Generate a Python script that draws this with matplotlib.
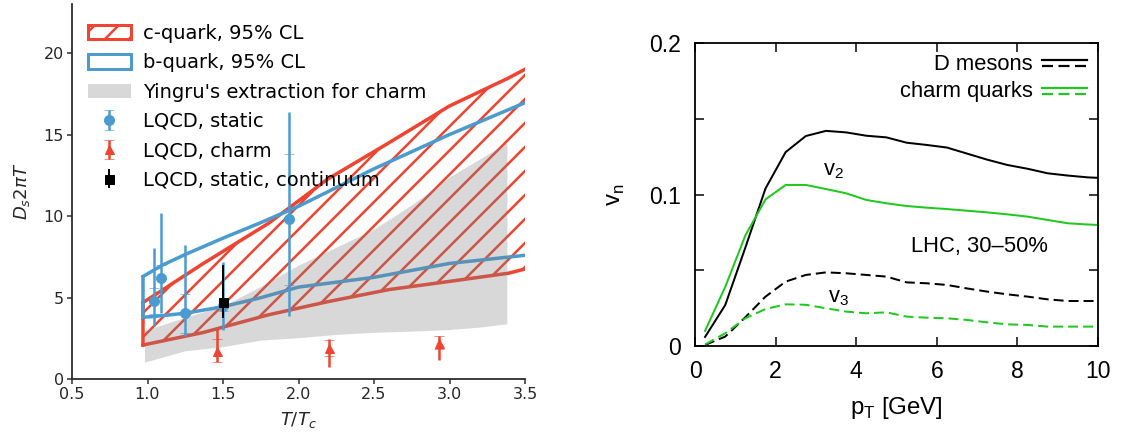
import numpy as np
import matplotlib
matplotlib.use('Agg')
import matplotlib.pyplot as plt
from matplotlib.lines import Line2D
from matplotlib.patches import Patch
from matplotlib.legend_handler import HandlerBase

# ---- left panel: spatial diffusion coefficient ----
# c-quark 95% CL band
t_c = [0.97, 1.37, 1.8, 2.19, 2.6, 3.0, 3.39, 3.5]
c_lo = [2.1, 2.87, 3.95, 4.75, 5.5, 6.0, 6.5, 6.76]
c_hi = [4.7, 7.1, 9.55, 12.25, 14.5, 16.75, 18.46, 19.0]

# b-quark 95% CL band
t_b = [0.97, 1.1, 1.25, 1.5, 1.75, 2.0, 2.5, 3.0, 3.5]
b_lo = [3.8, 3.9, 4.05, 4.45, 5.0, 5.65, 6.25, 7.1, 7.6]
b_hi = [6.3, 7.0, 7.65, 8.65, 9.6, 10.6, 12.9, 15.0, 16.95]

# Yingru's extraction (grey band)
t_g = [0.98, 1.25, 1.5, 1.75, 2.0, 2.25, 2.5, 2.75, 3.0, 3.2, 3.38]
g_lo = [1.05, 1.75, 2.0, 2.4, 2.55, 2.75, 2.88, 2.95, 3.05, 3.2, 3.4]
g_hi = [3.0, 3.8, 4.5, 5.7, 7.0, 8.1, 9.2, 10.7, 12.4, 13.5, 14.5]

# LQCD, static
t_s = [1.04, 1.09, 1.25, 1.5, 1.94]
d_s = [4.8, 6.2, 4.05, 4.5, 9.8]
s_lo = [1.55, 2.15, 1.4, 1.5, 5.9]
s_hi = [3.25, 4.0, 4.2, 2.7, 6.6]
s_stat = [0.8, 0.8, 1.2, 0.3, 4.0]

# LQCD, charm
t_ch = [1.46, 2.2, 2.93]
d_ch = [1.75, 1.9, 2.25]
ch_lo = [0.67, 1.12, 1.07]
ch_hi = [1.32, 0.6, 0.41]
ch_stat = [0.7, 0.5, 0.42]

# LQCD, static, continuum
t_k = [1.5]
d_k = [4.76]
k_lo = [1.02]
k_hi = [2.25]

left_labels = ['c-quark, 95% CL', 'b-quark, 95% CL', "Yingru's extraction for charm",
               'LQCD, static', 'LQCD, charm', 'LQCD, static, continuum']
x_ticks_l = [0.5, 1.0, 1.5, 2.0, 2.5, 3.0, 3.5]
y_ticks_l = [0, 5, 10, 15, 20]

# ---- right panel: v2 / v3 ----
pt = [0.25, 0.75, 1.25, 1.75, 2.25, 2.75, 3.25, 3.75, 4.25, 4.75, 5.25,
      5.75, 6.25, 6.75, 7.25, 7.75, 8.25, 8.75, 9.25, 9.75, 10.0]
d_v2 = [0.006, 0.027, 0.065, 0.104, 0.128, 0.1386, 0.142, 0.141, 0.1388, 0.1377, 0.1342,
        0.1327, 0.131, 0.127, 0.123, 0.1195, 0.117, 0.114, 0.1125, 0.1113, 0.111]
c_v2 = [0.010, 0.039, 0.073, 0.0968, 0.1063, 0.1063, 0.1036, 0.1008, 0.0964, 0.0942, 0.0924,
        0.0913, 0.0904, 0.0893, 0.0882, 0.0869, 0.0854, 0.0832, 0.081, 0.0802, 0.0799]
d_v3 = [0.0007, 0.0062, 0.019, 0.0326, 0.0425, 0.0469, 0.0486, 0.048, 0.0469, 0.0458, 0.042,
        0.0414, 0.0403, 0.038, 0.0359, 0.0341, 0.0326, 0.0308, 0.0297, 0.0297, 0.0297]
c_v3 = [0.001, 0.0084, 0.0183, 0.0244, 0.0275, 0.0272, 0.0249, 0.0227, 0.0216, 0.0222, 0.0194,
        0.0187, 0.0183, 0.0172, 0.0156, 0.0143, 0.0139, 0.0128, 0.0128, 0.0128, 0.0128]
right_labels = ['D mesons', 'charm quarks']
x_ticks_r = [0, 2, 4, 6, 8, 10]
y_ticks_r = [0, 0.05, 0.1, 0.15, 0.2]
y_ticklabels_r = ['0', '', '0.1', '', '0.2']

RED = '#ee4431'
BLUE = '#4b9bcf'
GREEN = '#1fc81f'
DARK = '#2b2b2b'

plt.rcParams['hatch.linewidth'] = 2.5
plt.rcParams['hatch.color'] = RED

W, H = 1124, 436
fig = plt.figure(figsize=(W / 72, H / 72), dpi=72)

# ================= left panel =================
ax = fig.add_axes([72 / W, 1 - 379.3 / H, 453 / W, 375.3 / H])

ax.fill_between(t_c, c_lo, c_hi, facecolor='none', edgecolor=RED, hatch='/', linewidth=0, zorder=1)
for ys in (c_lo, c_hi):
    ax.plot(t_c, ys, color=RED, lw=3.5, zorder=2)
ax.plot([t_c[0], t_c[0]], [c_lo[0], c_hi[0]], color=RED, lw=3.5, zorder=2)

for ys in (b_lo, b_hi):
    ax.plot(t_b, ys, color=BLUE, lw=3.5, zorder=2.5)
ax.plot([t_b[0], t_b[0]], [b_lo[0], b_hi[0]], color=BLUE, lw=3.5, zorder=2.5)

ax.fill_between(t_g, g_lo, g_hi, color='gray', alpha=0.3, linewidth=0, zorder=3)

e_s = ax.errorbar(t_s, d_s, yerr=[s_lo, s_hi], fmt='o', color=BLUE, ms=10, elinewidth=2.5, zorder=5)
e_s2 = ax.errorbar(t_s, d_s, yerr=s_stat, fmt='none', ecolor=BLUE, elinewidth=1, capsize=5,
                   capthick=1, alpha=0.6, zorder=5)
e_ch = ax.errorbar(t_ch, d_ch, yerr=[ch_lo, ch_hi], fmt='^', color=RED, ms=9, elinewidth=2.5, zorder=5)
e_ch2 = ax.errorbar(t_ch, d_ch, yerr=ch_stat, fmt='none', ecolor=RED, elinewidth=1, capsize=5,
                    capthick=1, alpha=0.6, zorder=5)
e_k = ax.errorbar(t_k, d_k, yerr=[k_lo, k_hi], fmt='s', color='black', ms=9, elinewidth=2, zorder=6)

h_c = Patch(facecolor='none', edgecolor=RED, hatch='/', lw=3)
h_b = Patch(facecolor='none', edgecolor=BLUE, lw=3)
h_g = Patch(facecolor='gray', alpha=0.3, lw=0)
ax.legend([h_c, h_b, h_g, (e_s, e_s2), (e_ch, e_ch2), e_k], left_labels,
          loc='upper left', bbox_to_anchor=(0.035, 0.947), frameon=False, fontsize=19.5,
          borderpad=0, borderaxespad=0, handlelength=2.2, handleheight=0.75,
          handletextpad=0.65, labelspacing=0.53)

ax.set_xlim(0.5, 3.5)
ax.set_ylim(0, 23)
ax.set_xticks(x_ticks_l)
ax.set_yticks(y_ticks_l)
ax.spines['top'].set_visible(False)
ax.spines['right'].set_visible(False)
for s in ('left', 'bottom'):
    ax.spines[s].set_color(DARK)
    ax.spines[s].set_linewidth(1.8)
ax.tick_params(direction='out', length=5, width=1.5, color=DARK, labelsize=16,
               labelcolor='#262626', pad=3)
ax.set_xlabel(r'$T/T_c$', fontsize=18, color='#262626', labelpad=8)
ax.set_ylabel(r'$D_s 2\pi T$', fontsize=18, color='#262626', labelpad=12)

# ================= right panel =================
FONT = 'Liberation Sans'
ax2 = fig.add_axes([695 / W, 1 - 346 / H, 403 / W, 303 / H])
dash = (0, (5, 2.5))
ax2.plot(pt, d_v2, color='black', lw=2)
ax2.plot(pt, c_v2, color=GREEN, lw=2)
ax2.plot(pt, d_v3, color='black', lw=2, ls=dash)
ax2.plot(pt, c_v3, color=GREEN, lw=2, ls=dash)


class StackedLines(HandlerBase):
    def create_artists(self, legend, orig_handle, xdescent, ydescent, width, height, fontsize, trans):
        c = orig_handle.get_color()
        xs = [-xdescent, width - xdescent]
        mid = height / 2 - ydescent - 1.5
        top = Line2D(xs, [mid + 3, mid + 3], color=c, lw=2.2, transform=trans)
        bot = Line2D(xs, [mid - 3, mid - 3], color=c, lw=2.2, ls=dash, transform=trans)
        return [top, bot]


leg2 = ax2.legend([Line2D([], [], color='black'), Line2D([], [], color=GREEN)], right_labels,
                  loc='upper right', bbox_to_anchor=(0.9727, 0.965), frameon=False,
                  markerfirst=False, borderpad=0, borderaxespad=0, handlelength=2.05,
                  handletextpad=0.4, labelspacing=0.3,
                  prop={'family': FONT, 'size': 22},
                  handler_map={Line2D: StackedLines()})

ax2.text(3.43, 0.116, r'v$_\mathregular{2}$', fontsize=22, family=FONT, ha='center', va='center')
ax2.text(3.55, 0.032, r'v$_\mathregular{3}$', fontsize=22, family=FONT, ha='center', va='center')
ax2.text(7.07, 0.0655, 'LHC, 30\u201350%', fontsize=22, family=FONT, ha='center', va='center')

ax2.set_xlim(0, 10)
ax2.set_ylim(0, 0.2)
ax2.set_xticks(x_ticks_r)
ax2.set_yticks(y_ticks_r)
ax2.set_yticklabels(y_ticklabels_r)
for s in ax2.spines.values():
    s.set_linewidth(1.8)
ax2.tick_params(direction='in', length=9, width=1.5, top=True, right=True, labelsize=23, pad=14)
for lab in ax2.get_xticklabels() + ax2.get_yticklabels():
    lab.set_family(FONT)
ax2.set_xlabel(r'p$_\mathregular{T}$ [GeV]', fontsize=24, family=FONT, labelpad=12)
ax2.set_ylabel(r'v$_\mathregular{n}$', fontsize=24, family=FONT, labelpad=22)

fig.savefig('out.png', dpi=72)
